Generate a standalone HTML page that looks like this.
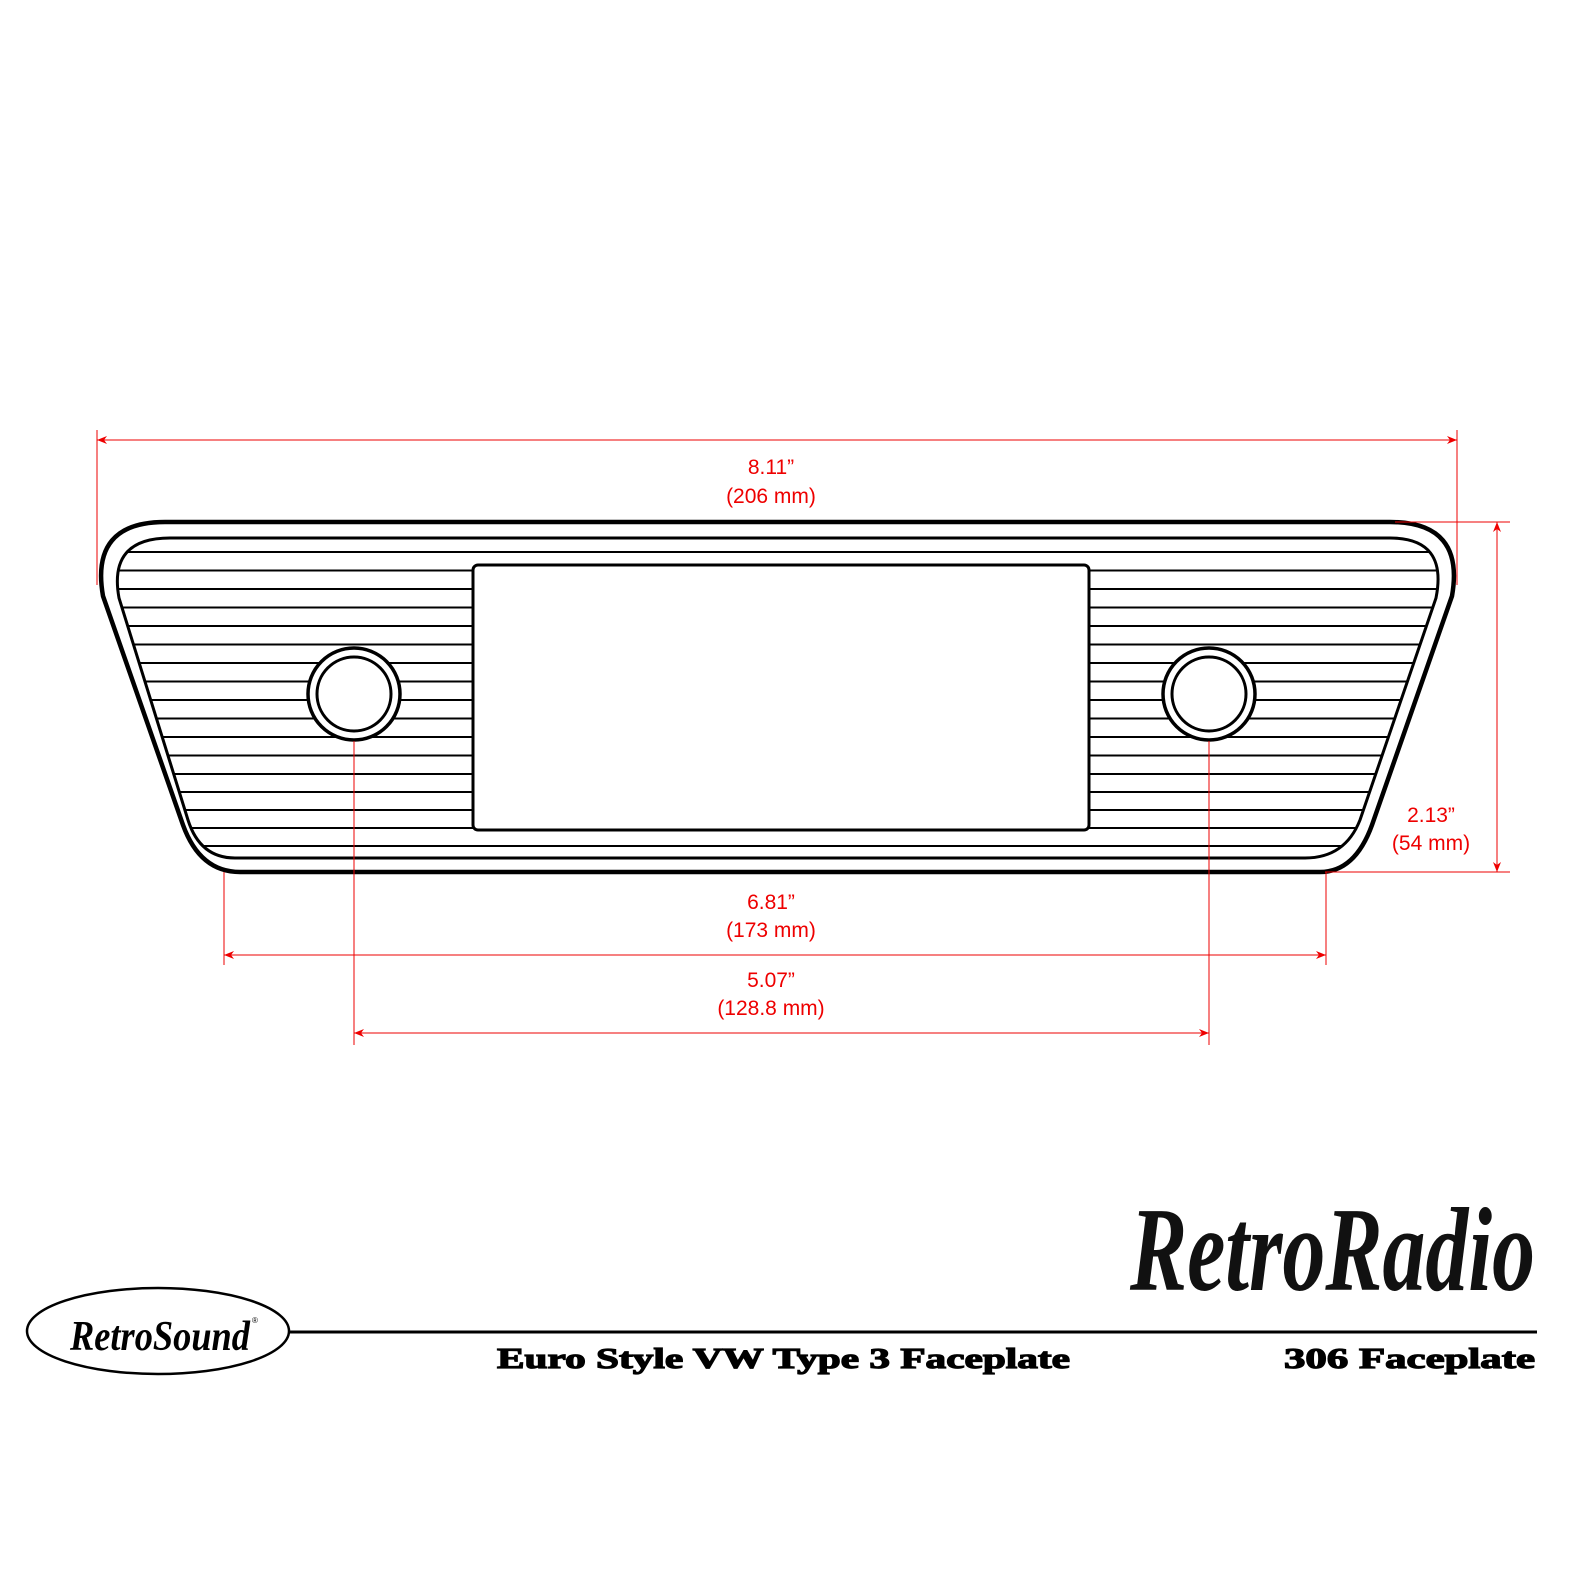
<!DOCTYPE html>
<html><head><meta charset="utf-8"><style>html,body{margin:0;padding:0;background:#fff}svg{display:block}</style></head>
<body>
<svg width="1585" height="1585" viewBox="0 0 1585 1585" xmlns="http://www.w3.org/2000/svg">
<defs>
<clipPath id="inner"><path d="M170,538 H1390 Q1448,538 1436,598 L1360,820 Q1345,858 1305,858 H235 Q200,858 188,820 L119,598 Q108,538 170,538 Z"/></clipPath>
<marker id="ar" viewBox="0 0 10 10" refX="10" refY="5" markerWidth="10" markerHeight="10" orient="auto-start-reverse" markerUnits="userSpaceOnUse"><path d="M0,1 L10,5 L0,9 L3,5 Z" fill="#e00"/></marker>
</defs>
<rect width="1585" height="1585" fill="#fff"/>
<path d="M165,522 H1390 Q1465,522 1452,596 L1372,825 Q1355,872 1320,872 H240 Q200,872 183,825 L103,596 Q90,522 165,522 Z" fill="#fff" stroke="#000" stroke-width="4.5"/>
<g clip-path="url(#inner)" stroke="#000" stroke-width="2">
<line x1="100" x2="1460" y1="552" y2="552"/><line x1="100" x2="1460" y1="570.5" y2="570.5"/>
<line x1="100" x2="1460" y1="589" y2="589"/><line x1="100" x2="1460" y1="607.5" y2="607.5"/>
<line x1="100" x2="1460" y1="626" y2="626"/><line x1="100" x2="1460" y1="644.5" y2="644.5"/>
<line x1="100" x2="1460" y1="663" y2="663"/><line x1="100" x2="1460" y1="681.5" y2="681.5"/>
<line x1="100" x2="1460" y1="700" y2="700"/><line x1="100" x2="1460" y1="718.5" y2="718.5"/>
<line x1="100" x2="1460" y1="737" y2="737"/><line x1="100" x2="1460" y1="755.5" y2="755.5"/>
<line x1="100" x2="1460" y1="774" y2="774"/><line x1="100" x2="1460" y1="792" y2="792"/>
<line x1="100" x2="1460" y1="810" y2="810"/><line x1="100" x2="1460" y1="828" y2="828"/>
<line x1="100" x2="1460" y1="846" y2="846"/>
</g>
<path d="M170,538 H1390 Q1448,538 1436,598 L1360,820 Q1345,858 1305,858 H235 Q200,858 188,820 L119,598 Q108,538 170,538 Z" fill="none" stroke="#000" stroke-width="3"/>
<rect x="473" y="565" width="616" height="265" rx="5" fill="#fff" stroke="#000" stroke-width="3"/>
<circle cx="354" cy="694" r="46" fill="#fff" stroke="#000" stroke-width="3.5"/>
<circle cx="354" cy="694" r="37" fill="#fff" stroke="#000" stroke-width="3"/>
<circle cx="1209" cy="694" r="46" fill="#fff" stroke="#000" stroke-width="3.5"/>
<circle cx="1209" cy="694" r="37" fill="#fff" stroke="#000" stroke-width="3"/>
<g stroke="#e00" stroke-width="1" fill="none">
<line x1="97" y1="430" x2="97" y2="585"/><line x1="1457" y1="430" x2="1457" y2="585"/>
<line x1="97" y1="440" x2="1457" y2="440" marker-start="url(#ar)" marker-end="url(#ar)"/>
<line x1="1395" y1="522" x2="1510" y2="522"/><line x1="1325" y1="872" x2="1510" y2="872"/>
<line x1="1497" y1="522" x2="1497" y2="872" marker-start="url(#ar)" marker-end="url(#ar)"/>
<line x1="224" y1="872" x2="224" y2="965"/><line x1="1326" y1="872" x2="1326" y2="965"/>
<line x1="224" y1="955" x2="1326" y2="955" marker-start="url(#ar)" marker-end="url(#ar)"/>
<line x1="354" y1="741" x2="354" y2="1045"/><line x1="1209" y1="741" x2="1209" y2="1045"/>
<line x1="354" y1="1033" x2="1209" y2="1033" marker-start="url(#ar)" marker-end="url(#ar)"/>
</g>
<g fill="#e00" font-family="Liberation Sans, sans-serif" font-size="21" text-anchor="middle">
<text x="771" y="474">8.11”</text><text x="771" y="503">(206 mm)</text>
<text x="1431" y="822">2.13”</text><text x="1431" y="850">(54 mm)</text>
<text x="771" y="909">6.81”</text><text x="771" y="937">(173 mm)</text>
<text x="771" y="987">5.07”</text><text x="771" y="1015">(128.8 mm)</text>
</g>
<ellipse cx="158" cy="1331" rx="131" ry="43" fill="#fff" stroke="#000" stroke-width="2.5"/>
<text x="70" y="1350" font-family="Liberation Serif, serif" font-style="italic" font-weight="bold" font-size="42" textLength="180" lengthAdjust="spacingAndGlyphs">RetroSound</text>
<text x="252" y="1323" font-family="Liberation Sans, sans-serif" font-size="8">®</text>
<line x1="290" y1="1332" x2="1537" y2="1332" stroke="#000" stroke-width="3"/>
<g font-family="Liberation Serif, serif" font-weight="bold" font-size="29" stroke="#000" stroke-width="1.2">
<text x="497" y="1368" textLength="573" lengthAdjust="spacingAndGlyphs">Euro Style VW Type 3 Faceplate</text>
<text x="1284" y="1368" textLength="251" lengthAdjust="spacingAndGlyphs">306 Faceplate</text>
</g>
<text x="1130" y="1290" font-family="Liberation Serif, serif" font-style="italic" font-weight="bold" font-size="120" textLength="405" lengthAdjust="spacingAndGlyphs" fill="#111">RetroRadio</text>
</svg>
</body></html>
